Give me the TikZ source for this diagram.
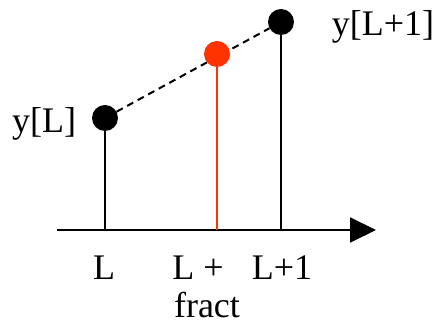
\documentclass[tikz,border=0pt]{standalone}
\usepackage{fontspec}
\setmainfont{Liberation Serif}
\usetikzlibrary{arrows.meta, backgrounds}
\definecolor{fractred}{RGB}{255,51,0}

\begin{document}
\begin{tikzpicture}[x=1pt, y=1pt, font=\fontsize{36}{40}\selectfont,
            dot/.style = {circle, fill, inner sep=0pt, minimum size=26pt},
            stem/.style = {line width=2pt},
            lbl/.style = {inner sep=0pt, anchor=base}]
            \useasboundingbox (0,0) rectangle (440,324);

            \node[dot] (yL) at (105,206) {};
            \node[dot] (yL1) at (281,302) {};
            \node[dot, fractred] (yF) at (217,270) {};

            \coordinate (axL) at (105,94);
            \coordinate (axF) at (217,94);
            \coordinate (axL1) at (281,94);
            \coordinate (axStart) at (57,94);
            \coordinate (axEnd) at (376,94);

            \begin{pgfonlayer}{background}
                \draw[stem, dash pattern=on 7pt off 5pt] (yL) -- (yL1);
            \end{pgfonlayer}

            \draw[stem, -{Triangle[length=26pt, width=25pt]}] (axStart) -- (axEnd);
            \draw[stem] (axL) -- (yL);
            \draw[stem] (axL1) -- (yL1);
            \draw[stem, fractred] (axF) -- (yF);

            \node[lbl] (labyL) at (44,191) {y[L]};
            \node[lbl] (labyL1) at (383,288) {y[L+1]};
            \node[lbl] (labL) at (104,44) {L};
            \node[lbl] (labF) at (198,44) {L +};
            \node[lbl] (labL1) at (282,44) {L+1};
            \node[lbl] (labfract) at (207,6) {fract};
        \end{tikzpicture}
\end{document}
